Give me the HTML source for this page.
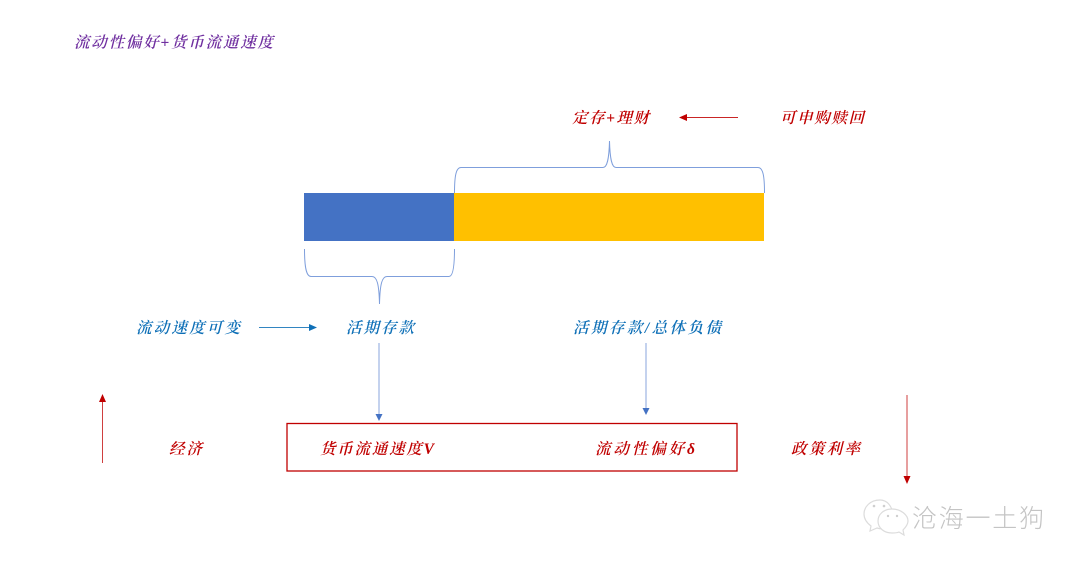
<!DOCTYPE html>
<html>
<head>
<meta charset="utf-8">
<style>
html,body{margin:0;padding:0;background:#fff;width:1080px;height:565px;overflow:hidden}
svg{display:block}
text{font-family:"Liberation Serif","Noto Serif CJK SC",serif;font-style:italic;font-size:15.500px;font-weight:600}
.r{fill:#c00000}.b{fill:#0f70b7}.p{fill:#7030a0}
</style>
</head>
<body>
<svg width="1080" height="565" viewBox="0 0 1080 565" xmlns="http://www.w3.org/2000/svg">
<rect width="1080" height="565" fill="#fff"/>
<text class="p" x="74" y="47.500" textLength="199">流动性偏好+货币流通速度</text>
<text class="r" x="572" y="123" textLength="77">定存+理财</text>
<text class="r" x="780" y="123" textLength="84">可申购赎回</text>
<line x1="738" y1="117.500" x2="686" y2="117.500" stroke="#c00000" stroke-width="1" opacity=".85"/>
<polygon points="679,117.500 687,114 687,121" fill="#c00000"/>
<path d="M454.500 193C454.500 176 456 167.500 461 167.500H603C607 167.500 609 160 609.500 141C610 160 612 167.500 616 167.500H758C763 167.500 764.500 176 764.500 193" fill="none" stroke="#7f9fdc" stroke-width="1"/>
<rect x="304" y="193" width="150" height="48" fill="#4472c4"/>
<rect x="454" y="193" width="310" height="48" fill="#ffc000"/>
<path d="M304.500 249C304.500 266 306 276.500 311 276.500H372C377 276.500 379 284 379.500 304C380 284 382 276.500 387 276.500H449C453 276.500 454.500 266 454.500 249" fill="none" stroke="#7f9fdc" stroke-width="1"/>
<text class="b" x="136" y="333" textLength="104">流动速度可变</text>
<line x1="259" y1="327.500" x2="310" y2="327.500" stroke="#0f70b7" stroke-width="1" opacity=".85"/>
<polygon points="317,327.500 309,324 309,331" fill="#0f70b7"/>
<text class="b" x="346" y="333" textLength="68">活期存款</text>
<text class="b" x="573" y="333" textLength="148">活期存款/总体负债</text>
<line x1="379" y1="343" x2="379" y2="415" stroke="#8aa6dc" stroke-width="1"/>
<polygon points="379,421 375.500,414 382.500,414" fill="#4472c4"/>
<line x1="646" y1="343" x2="646" y2="409" stroke="#8aa6dc" stroke-width="1"/>
<polygon points="646,415 642.500,408 649.500,408" fill="#4472c4"/>
<line x1="102.500" y1="463" x2="102.500" y2="400" stroke="#c00000" stroke-width="1" opacity=".75"/>
<polygon points="102.500,394 99,402 106,402" fill="#c00000"/>
<line x1="907" y1="395" x2="907" y2="478" stroke="#c00000" stroke-width="1" opacity=".75"/>
<polygon points="907,484 903.500,476 910.500,476" fill="#c00000"/>
<rect x="287" y="423.500" width="450" height="47.500" fill="none" stroke="#c00000" stroke-width="1.300"/>
<text class="r" x="169" y="454" textLength="33">经济</text>
<text class="r" x="320" y="454" textLength="114">货币流通速度V</text>
<text class="r" x="595" y="454" textLength="100">流动性偏好δ</text>
<text class="r" x="791" y="454" textLength="69">政策利率</text>
<g fill="#fff" stroke="#dcdcdc" stroke-width="1.200">
<path d="M880 500C870 500 864 507 864 514C864 519 867 523 871 526L870 531L877 528C880 529 884 529 887 528C897 526 895 500 880 500Z"/>
<path d="M892 509C883 509 878 515 878 521C878 528 884 533 892 533C895 533 897 533 899 532L904 535L903 530C906 527 908 524 908 521C908 515 901 509 892 509Z"/>
</g>
<g fill="#cfcfcf">
<circle cx="874" cy="506" r="1.300"/><circle cx="884" cy="506" r="1.300"/>
<circle cx="888" cy="516" r="1.200"/><circle cx="897" cy="516" r="1.200"/>
</g>
<text x="912" y="527" textLength="132" style="font-family:'Liberation Sans','Noto Sans CJK SC',sans-serif;font-style:normal;font-weight:300;font-size:25px;fill:#c4c4c4">沧海一土狗</text>
</svg>
</body>
</html>
